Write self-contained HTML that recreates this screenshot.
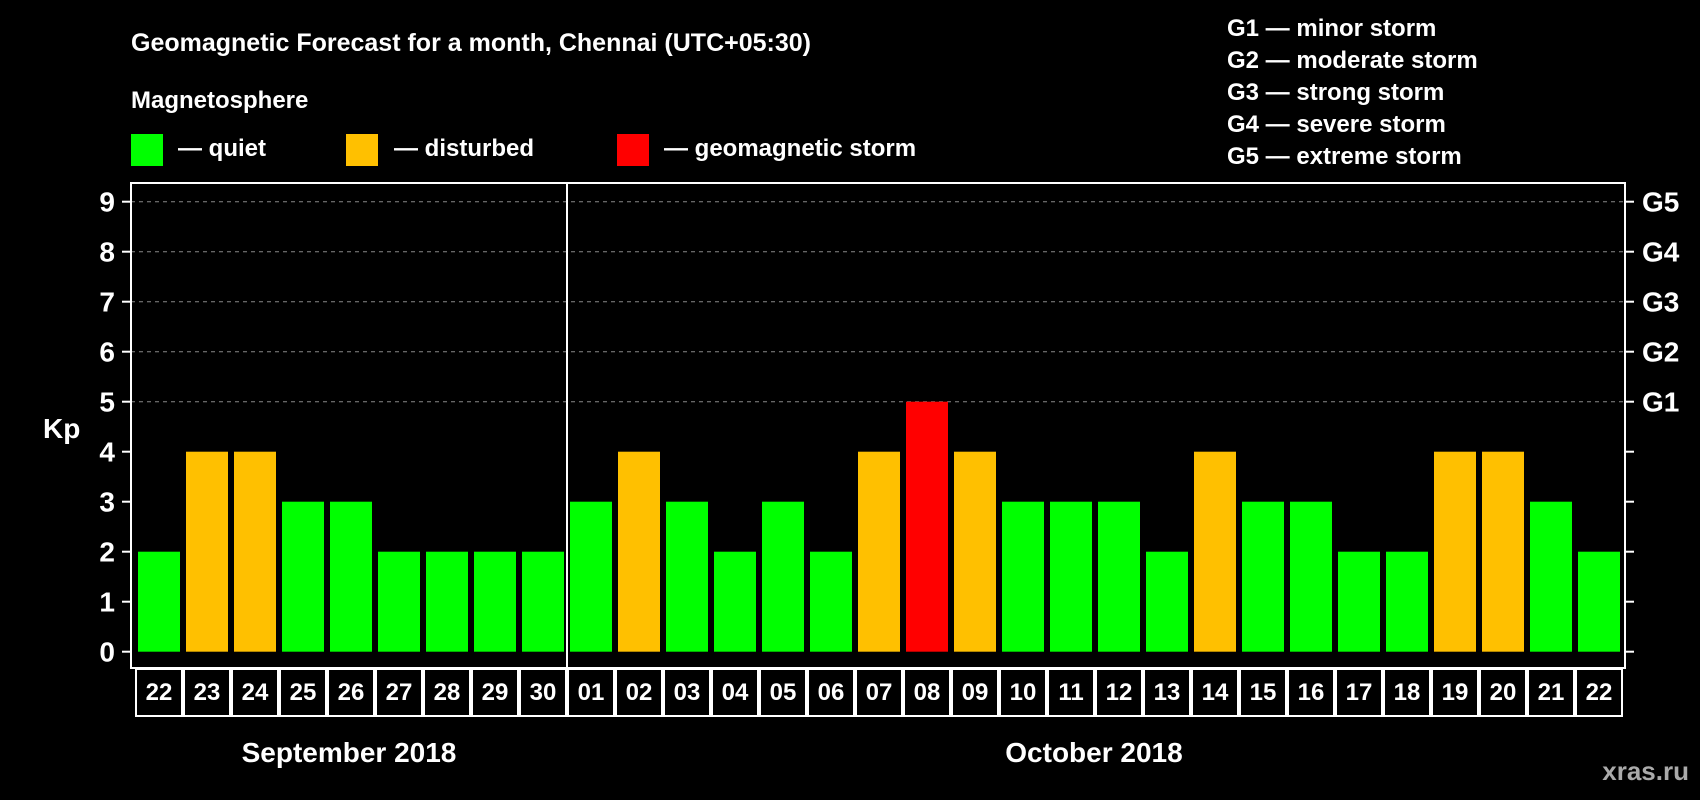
<!DOCTYPE html>
<html><head><meta charset="utf-8"><style>
html,body{margin:0;padding:0;background:#000;}
svg{display:block;font-family:"Liberation Sans",Arial,sans-serif;font-weight:bold;}
</style></head><body>
<svg id="chart" width="1700" height="800" viewBox="0 0 1700 800">
<rect width="1700" height="800" fill="#000"/>
<text x="131" y="51" fill="#fff" font-size="25">Geomagnetic Forecast for a month, Chennai (UTC+05:30)</text>
<text x="131" y="108" fill="#fff" font-size="24">Magnetosphere</text>
<rect x="131" y="134" width="32" height="32" fill="#00ff00"/>
<text x="178" y="156" fill="#fff" font-size="24">— quiet</text>
<rect x="346" y="134" width="32" height="32" fill="#ffc000"/>
<text x="394" y="156" fill="#fff" font-size="24">— disturbed</text>
<rect x="617" y="134" width="32" height="32" fill="#ff0000"/>
<text x="664" y="156" fill="#fff" font-size="24">— geomagnetic storm</text>
<g fill="#fff" font-size="24">
<text x="1227" y="36">G1 — minor storm</text>
<text x="1227" y="68">G2 — moderate storm</text>
<text x="1227" y="100">G3 — strong storm</text>
<text x="1227" y="132">G4 — severe storm</text>
<text x="1227" y="164">G5 — extreme storm</text>
</g>
<text x="43" y="438" fill="#fff" font-size="28">Kp</text>
<g id="grid"></g>
<g id="bars"></g>
<rect x="131" y="183" width="1494" height="485" fill="none" stroke="#fff" stroke-width="2"/>
<line x1="567" y1="183" x2="567" y2="716" stroke="#fff" stroke-width="2"/>
<g id="dates"></g>
<text x="349" y="762" fill="#fff" font-size="28" text-anchor="middle">September 2018</text>
<text x="1094" y="762" fill="#fff" font-size="28" text-anchor="middle">October 2018</text>
<text x="1689" y="780" fill="#aaa" font-size="26" text-anchor="end">xras.ru</text>
</svg>
<script>
const days = ["22","23","24","25","26","27","28","29","30","01","02","03","04","05","06","07","08","09","10","11","12","13","14","15","16","17","18","19","20","21","22"];
const kpValues = [2,4,4,3,3,2,2,2,2,3,4,3,2,3,2,4,5,4,3,3,3,2,4,3,3,2,2,4,4,3,2];
const yTicks = [0,1,2,3,4,5,6,7,8,9];
const gLabels = ["G1","G2","G3","G4","G5"];
const NS="http://www.w3.org/2000/svg";
const y0=651.7, unit=50, x0=135, slot=48, bw=42, plotL=131, plotR=1625, boxBottom=716;
const yScale=v=>y0-v*unit;
const xScale=i=>x0+i*slot;
function mk(tag,attrs,parent){const e=document.createElementNS(NS,tag);for(const k in attrs)e.setAttribute(k,attrs[k]);parent.appendChild(e);return e;}
const grid=document.getElementById('grid');
yTicks.forEach(v=>{
  const y=yScale(v);
  if(v>=5){const g=mk('line',{x1:plotL,x2:plotR,y1:y,y2:y,stroke:'#888','stroke-dasharray':'4 4','stroke-width':1},grid);
  
  }
  const tl=mk('line',{x1:122,x2:plotL,y1:y,y2:y,stroke:'#fff','stroke-width':2},grid);
  
  
  const tr=mk('line',{x1:plotR,x2:1634,y1:y,y2:y,stroke:'#fff','stroke-width':2},grid);
  
  
  const t=mk('text',{x:115,y:y+10,fill:'#fff','font-size':28,'text-anchor':'end'},grid);
  t.textContent=v;
  
  
});
gLabels.forEach((g,i)=>{
  const t=mk('text',{x:1642,y:yScale(5+i)+10,fill:'#fff','font-size':28},grid);
  t.textContent=g;
  
  
});
const bars=document.getElementById('bars');
kpValues.forEach((v,i)=>{
  const c=v>=5?'#ff0000':(v>=4?'#ffc000':'#00ff00');
  const r=mk('rect',{x:xScale(i)+3,y:yScale(v),width:bw,height:y0-yScale(v),fill:c},bars);
  
  
});
const dates=document.getElementById('dates');
days.forEach((d,i)=>{
  const r=mk('rect',{x:xScale(i)+1,y:669,width:slot-2,height:boxBottom-669,fill:'none',stroke:'#fff','stroke-width':2},dates);
  
  
  const t=mk('text',{x:xScale(i)+slot/2,y:700,fill:'#fff','font-size':24,'text-anchor':'middle'},dates);
  t.textContent=d;
  
  
});
</script>
</body></html>
